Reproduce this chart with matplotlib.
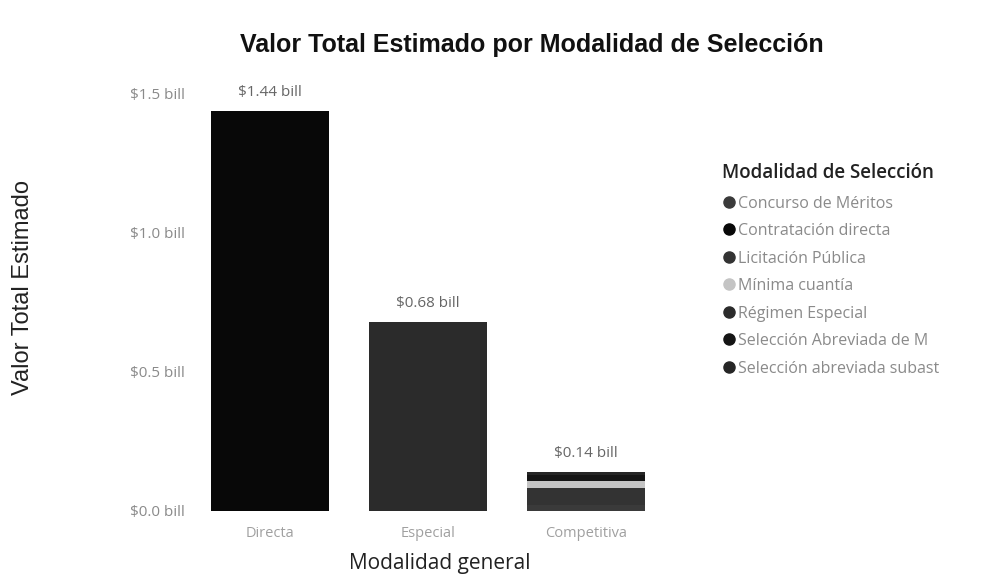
import numpy as np
import matplotlib
matplotlib.use('Agg')
import matplotlib.pyplot as plt
from matplotlib.lines import Line2D

plt.rcParams['font.family'] = ['Open Sans', 'DejaVu Sans']

# categorias del eje x
categorias = ["Directa", "Especial", "Competitiva"]

# modalidades (trazas apiladas) y sus valores en billones por categoria
modalidades = [
    "Concurso de Méritos",
    "Contratación directa",
    "Licitación Pública",
    "Mínima cuantía",
    "Régimen Especial",
    "Selección Abreviada de M",
    "Selección abreviada subast",
]
concurso = [0.0, 0.0, 0.02]
contratacion_directa = [1.44, 0.0, 0.0]
licitacion = [0.0, 0.0, 0.063]
minima_cuantia = [0.0, 0.0, 0.025]
regimen_especial = [0.0, 0.68, 0.0]
sel_abreviada_m = [0.0, 0.0, 0.02]
sel_abreviada_subasta = [0.0, 0.0, 0.012]

totales_txt = ["$1.44 bill", "$0.68 bill", "$0.14 bill"]
y_ticks = [0.0, 0.5, 1.0, 1.5]
y_ticklabels = ["$0.0 bill", "$0.5 bill", "$1.0 bill", "$1.5 bill"]

series = [concurso, contratacion_directa, licitacion, minima_cuantia,
          regimen_especial, sel_abreviada_m, sel_abreviada_subasta]
colores = ["#3a3a3a", "#080808", "#333333", "#c4c4c4",
           "#2b2b2b", "#151515", "#262626"]

fig = plt.figure(figsize=(9.94, 5.85), dpi=100)
ax = fig.add_axes([0.192, 0.1265, 0.477, 0.7225])

x = np.arange(len(categorias))
base = np.zeros(len(categorias))
for vals, col in zip(series, colores):
    vals = np.array(vals)
    ax.bar(x, vals, width=0.75, bottom=base, color=col, linewidth=0)
    base += vals

# etiquetas de total encima de cada barra
for xi, tot, txt in zip(x, base, totales_txt):
    ax.text(xi, tot + 0.065, txt, ha='center', va='center', fontsize=11, color='#666666')

ax.set_xlim(-0.5, 2.5)
ax.set_ylim(0, 1.52)
ax.set_xticks(x)
ax.set_xticklabels(categorias, fontsize=10.5, color='#a0a0a0')
ax.set_yticks(y_ticks)
ax.set_yticklabels(y_ticklabels, fontsize=11, color='#8a8a8a')
ax.tick_params(axis='x', length=0, pad=11)
ax.tick_params(axis='y', length=0, pad=4)
for s in ax.spines.values():
    s.set_visible(False)

ax.set_xlabel("Modalidad general", fontsize=15, color='#222222')
ax.xaxis.set_label_coords(0.525, -0.1)
ax.set_ylabel("Valor Total Estimado", fontsize=17, color='#222222',
              family=['Liberation Sans', 'DejaVu Sans'])
ax.yaxis.set_label_coords(-0.33, 0.528)

fig.text(0.535, 0.923, "Valor Total Estimado por Modalidad de Selección",
         ha='center', va='center', fontsize=18, fontweight='bold', color='#111111',
         family=['Liberation Sans', 'DejaVu Sans'])

# leyenda
handles = [Line2D([0], [0], marker='o', linestyle='', markersize=8,
                  markerfacecolor=c, markeredgecolor=c) for c in colores]
leg = fig.legend(handles, modalidades, title="Modalidad de Selección",
                 loc='upper left', bbox_to_anchor=(0.718, 0.735), frameon=False,
                 fontsize=11.5, title_fontsize=13.5, handletextpad=0.15,
                 labelspacing=0.72, borderpad=0, handlelength=0.9)
leg._legend_box.align = 'left'
leg._legend_box.sep = 9
leg.get_title().set_fontweight('semibold')
leg.get_title().set_color('#222222')
for t in leg.get_texts():
    t.set_color('#8a8a8a')

fig.savefig("out.png", dpi=100)
